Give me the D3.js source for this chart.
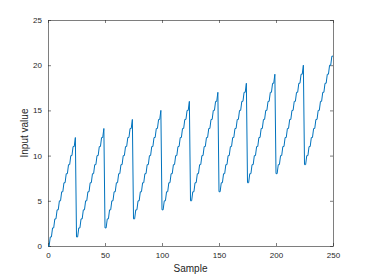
<!DOCTYPE html>
<html>
<head>
<meta charset="utf-8">
<script src="https://cdn.jsdelivr.net/npm/d3@7"></script>
<style>
  body { margin: 0; background: #fff; }
  .tick text { font-family: "Liberation Sans", Arial, sans-serif; font-size: 8px; fill: #262626; }
  .lbl { font-family: "Liberation Sans", Arial, sans-serif; font-size: 10px; fill: #262626; }
</style>
</head>
<body>
<div id="dataviz"></div>
<script>
// sample values, one row per sawtooth (25 samples each)
var inputValue = [
  0,0,1,1,2,2,3,3,4,4,5,5,6,6,7,7,8,8,9,9,10,10,11,11,12,
  1,1,2,2,3,3,4,4,5,5,6,6,7,7,8,8,9,9,10,10,11,11,12,12,13,
  2,2,3,3,4,4,5,5,6,6,7,7,8,8,9,9,10,10,11,11,12,12,13,13,14,
  3,3,4,4,5,5,6,6,7,7,8,8,9,9,10,10,11,11,12,12,13,13,14,14,15,
  4,4,5,5,6,6,7,7,8,8,9,9,10,10,11,11,12,12,13,13,14,14,15,15,16,
  5,5,6,6,7,7,8,8,9,9,10,10,11,11,12,12,13,13,14,14,15,15,16,16,17,
  6,6,7,7,8,8,9,9,10,10,11,11,12,12,13,13,14,14,15,15,16,16,17,17,18,
  7,7,8,8,9,9,10,10,11,11,12,12,13,13,14,14,15,15,16,16,17,17,18,18,19,
  8,8,9,9,10,10,11,11,12,12,13,13,14,14,15,15,16,16,17,17,18,18,19,19,20,
  9,9,10,10,11,11,12,12,13,13,14,14,15,15,16,16,17,17,18,18,19,19,20,20,21,
  21
];
var xTicks = [0, 50, 100, 150, 200, 250];
var yTicks = [0, 5, 10, 15, 20, 25];
var xLabel = "Sample";
var yLabel = "Input value";

var margin = { top: 20, right: 37, bottom: 31, left: 48 };
var widthFull = 370;
var heightFull = 277;
var width = widthFull - margin.left - margin.right;
var height = heightFull - margin.top - margin.bottom;

var svg = d3.select("#dataviz").append("svg")
    .attr("width", widthFull)
    .attr("height", heightFull)
    .append("g")
    .attr("transform", "translate(" + margin.left + "," + margin.top + ")");

var x = d3.scaleLinear().domain([0, 250]).range([0, width]);
var y = d3.scaleLinear().domain([0, 25]).range([height, 0]);

var axisColor = "#262626";
function styleAxis(g) {
    g.select(".domain").attr("stroke", axisColor).attr("stroke-width", 0.6);
    g.selectAll(".tick line").attr("stroke", axisColor).attr("stroke-width", 0.6);
}

// bottom + left with labels
svg.append("g")
    .attr("transform", "translate(0," + height + ")")
    .call(d3.axisBottom(x).tickValues(xTicks).tickSize(-3).tickSizeOuter(0).tickPadding(6))
    .call(styleAxis);

svg.append("g")
    .call(d3.axisLeft(y).tickValues(yTicks).tickSize(-3).tickSizeOuter(0).tickPadding(6))
    .call(styleAxis);

// top + right, ticks only (box)
svg.append("g")
    .call(d3.axisTop(x).tickValues(xTicks).tickSize(-3).tickSizeOuter(0).tickFormat(""))
    .call(styleAxis);

svg.append("g")
    .attr("transform", "translate(" + width + ",0)")
    .call(d3.axisRight(y).tickValues(yTicks).tickSize(-3).tickSizeOuter(0).tickFormat(""))
    .call(styleAxis);

var line = d3.line()
    .x(function(d, i) { return x(i); })
    .y(function(d) { return y(d); });

svg.append("path")
    .datum(inputValue)
    .attr("fill", "none")
    .attr("stroke", "#0072BD")
    .attr("stroke-width", 1)
    .attr("d", line);

svg.append("text")
    .attr("class", "lbl")
    .attr("x", width / 2)
    .attr("y", height + 26)
    .attr("text-anchor", "middle")
    .text(xLabel);

svg.append("text")
    .attr("class", "lbl")
    .attr("transform", "translate(-20," + (height / 2) + ") rotate(-90)")
    .attr("text-anchor", "middle")
    .text(yLabel);
</script>
</body>
</html>
